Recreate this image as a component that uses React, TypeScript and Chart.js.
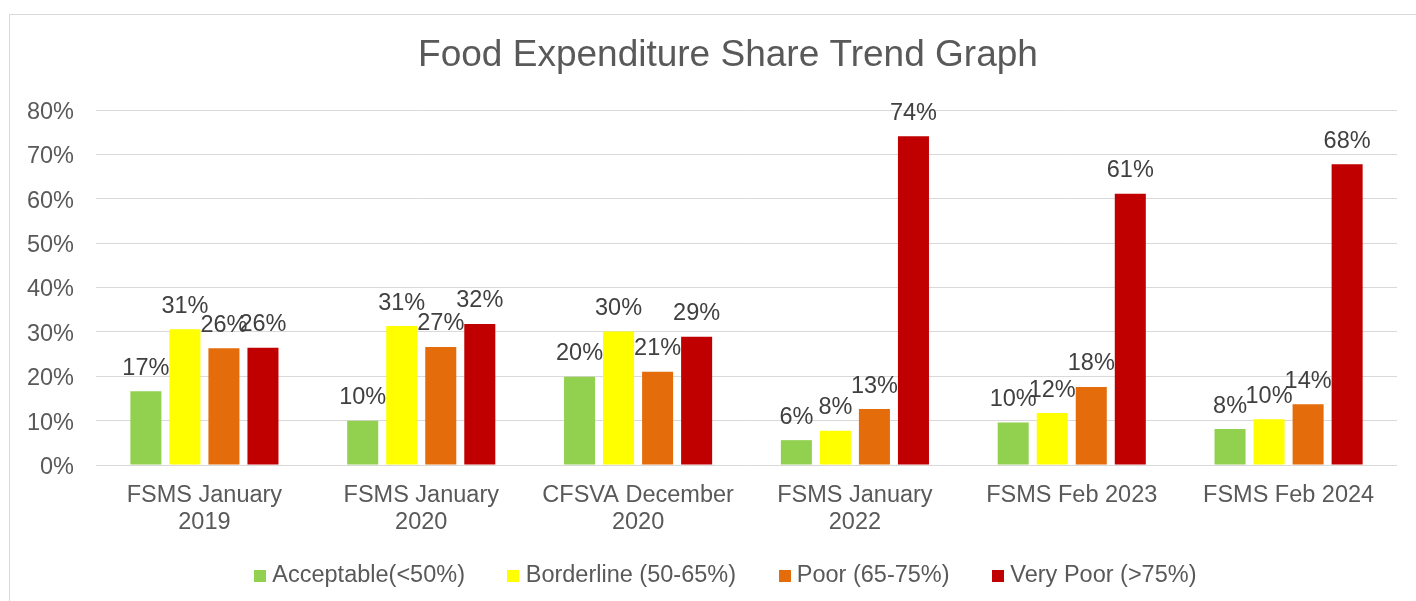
import React, { useEffect, useRef } from "react";
import { Chart, registerables } from "chart.js";

Chart.register(...registerables);

const categories: (string | string[])[] = [
  ["FSMS January", "2019"],
  ["FSMS January", "2020"],
  ["CFSVA December", "2020"],
  ["FSMS January", "2022"],
  "FSMS Feb 2023",
  "FSMS Feb 2024",
];

const seriesNames = [
  "Acceptable(<50%)",
  "Borderline (50-65%)",
  "Poor (65-75%)",
  "Very Poor (>75%)",
];

const acceptable = [16.6, 10.0, 19.9, 5.6, 9.6, 8.1];
const borderline = [30.6, 31.3, 30.1, 7.7, 11.7, 10.3];
const poor = [26.3, 26.6, 21.0, 12.6, 17.6, 13.7];
const veryPoor = [26.4, 31.8, 28.9, 74.1, 61.1, 67.8];

const seriesColors = ["#92D050", "#FFFF00", "#E46C0A", "#C00000"];

const titleText = "Food Expenditure Share Trend Graph";
const yMin = 0;
const yMax = 80;
const yStep = 10;

const FONT = "'Liberation Sans', Arial, sans-serif";
const TEXT = "#595959";

const dataLabelPlugin = {
  id: "dataLabels",
  afterLayout(chart: any) {
    // let the category labels extend below the (compact) x-axis box
    const x = chart.scales.x;
    if (x) x.bottom = chart.height;
  },
  afterDatasetsDraw(chart: any) {
    const ctx = chart.ctx;
    ctx.save();
    ctx.font = `23.5px ${FONT}`;
    ctx.fillStyle = "#404040";
    ctx.textAlign = "center";
    ctx.textBaseline = "alphabetic";
    chart.data.datasets.forEach((ds: any, di: number) => {
      const meta = chart.getDatasetMeta(di);
      meta.data.forEach((bar: any, i: number) => {
        const v = ds.data[i];
        ctx.fillText(Math.round(v) + "%", bar.x, bar.y - 16.5);
      });
    });
    ctx.restore();
  },
};

function makeMarker(color: string) {
  const c = document.createElement("canvas");
  c.width = 12;
  c.height = 12;
  const g = c.getContext("2d")!;
  g.fillStyle = color;
  g.fillRect(0, 0, 12, 12);
  return c;
}

export default function App() {
  const ref = useRef<HTMLCanvasElement>(null);

  useEffect(() => {
    if (!ref.current) return;
    const allSeries = [acceptable, borderline, poor, veryPoor];
    const markers = seriesColors.map(makeMarker);
    const chart = new Chart(ref.current, {
      type: "bar",
      data: {
        labels: categories,
        datasets: allSeries.map((d, i) => ({
          label: seriesNames[i],
          data: d,
          backgroundColor: seriesColors[i],
          borderWidth: 0,
          categoryPercentage: 0.72,
          barPercentage: 0.795,
          yAxisID: "y",
        })),
      },
      options: {
        responsive: false,
        animation: false,
        devicePixelRatio: 1,
        layout: { padding: { top: 20, bottom: 3.25, left: 0, right: 0 } },
        plugins: {
          title: {
            display: true,
            text: titleText,
            color: TEXT,
            font: { family: FONT, size: 37, weight: "normal" },
            padding: { top: 0, bottom: 31.6 },
          },
          legend: {
            position: "bottom",
            labels: {
              usePointStyle: true,
              pointStyleWidth: 1,
              boxHeight: 12,
              padding: 48,
              color: TEXT,
              font: { family: FONT, size: 23.5 },
              generateLabels: (ch: any) =>
                ch.data.datasets.map((ds: any, i: number) => ({
                  text: ds.label,
                  fillStyle: ds.backgroundColor,
                  strokeStyle: ds.backgroundColor,
                  lineWidth: 0,
                  pointStyle: markers[i],
                  fontColor: TEXT,
                  hidden: false,
                  datasetIndex: i,
                })),
            },
          },
          tooltip: { enabled: false },
        },
        scales: {
          x: {
            grid: { display: false, drawTicks: false },
            border: { display: false },
            ticks: {
              color: TEXT,
              font: { family: FONT, size: 23.5, lineHeight: 1.15 },
              padding: 17,
              maxRotation: 0,
              autoSkip: false,
            },
            afterFit: (s: any) => {
              s.height = 51.25;
            },
          },
          y: {
            min: yMin,
            max: yMax,
            grid: { color: "#D9D9D9", lineWidth: 1, drawTicks: false },
            border: { display: false },
            ticks: {
              stepSize: yStep,
              color: TEXT,
              font: { family: FONT, size: 23.5 },
              padding: 22,
              labelOffset: 2.5,
              callback: (v: any) => v + "%",
            },
            afterFit: (s: any) => {
              s.width = 87;
            },
          },
          yR: {
            position: "right",
            display: true,
            grid: { display: false, drawOnChartArea: false, drawTicks: false },
            border: { display: false },
            ticks: { display: false },
            afterFit: (s: any) => {
              s.width = 50;
            },
          },
        },
      },
      plugins: [dataLabelPlugin],
    } as any);
    return () => chart.destroy();
  }, []);

  return (
    <div
      style={{
        position: "fixed",
        left: 0,
        top: 0,
        width: 1416,
        height: 601,
        overflow: "hidden",
        background: "#ffffff",
      }}
    >
      <div
        style={{
          position: "absolute",
          left: 9,
          top: 14,
          width: 1500,
          height: 700,
          border: "1px solid #D9D9D9",
          boxSizing: "border-box",
        }}
      />
      <canvas
        ref={ref}
        width={1438}
        height={587}
        style={{ position: "absolute", left: 9, top: 14, width: 1438, height: 587 }}
      />
    </div>
  );
}
